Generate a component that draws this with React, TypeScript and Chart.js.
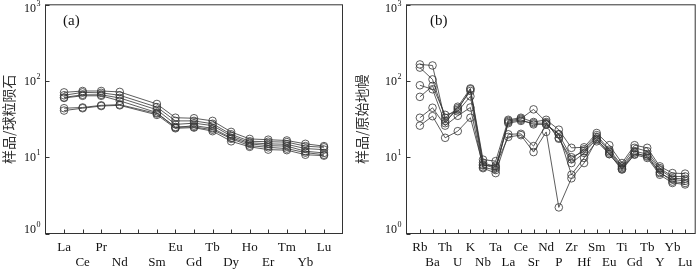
import React, { useEffect, useRef } from 'react';
import { Chart, registerables } from 'chart.js';

Chart.register(...registerables);

// ---------- data ----------
const reeElements = ['La', 'Ce', 'Pr', 'Nd', '', 'Sm', 'Eu', 'Gd', 'Tb', 'Dy', 'Ho', 'Er', 'Tm', 'Yb', 'Lu'];
const reeSample1 = [71, 74, 74, 72, null, 50, 33, 32.5, 30, 21.5, 17.4, 17, 16.6, 15, 14];
const reeSample2 = [65, 71, 70, 65, null, 45.5, 30, 30, 27.5, 20, 16.2, 16, 15.8, 14, 13.5];
const reeSample3 = [61, 66, 66, 60, null, 42, 27, 28, 26, 19, 15.5, 15, 14.8, 13, 12.6];
const reeSample4 = [60, 64, 64, 55, null, 38.5, 24.5, 26, 24, 18, 15, 14.2, 14, 12, 11.4];
const reeSample5 = [44, 45, 48, 49, null, 37.5, 25, 25, 23, 17.5, 14.2, 13.5, 13, 11.5, 10.8];
const reeSample6 = [41, 44, 47, 48, null, 36, 24, 24.5, 22, 16.2, 13.7, 12.6, 12.4, 10.8, 10.5];

const spiderElements = ['Rb', 'Ba', 'Th', 'U', 'K', 'Nb', 'Ta', 'La', 'Ce', 'Sr', 'Nd', 'P', 'Zr', 'Hf', 'Sm', 'Eu', 'Ti', 'Gd', 'Tb', 'Y', 'Yb', 'Lu'];
const spiderSample1 = [165, 160, 30, 42, 78, 8.5, 7.5, 29, 31, 27, 27, 20, 10, 12, 18.5, 12, 7.5, 12, 11, 6.9, 5.3, 5.2];
const spiderSample2 = [150, 105, 33, 44, 74, 8.0, 7.2, 28, 30, 28, 28, 18, 8.4, 11.4, 17.5, 11, 7.0, 11, 10.5, 6.4, 4.8, 4.6];
const spiderSample3 = [88, 78, 28, 46, 80, 9.3, 8.9, 31, 33, 29, 31, 23, 13.3, 13.5, 20.8, 14.4, 8.4, 14.4, 13.3, 7.6, 6.2, 6.1];
const spiderSample4 = [62, 86, 36, 40, 63, 7.4, 6.8, 30, 32, 42.5, 29, 17.5, 9.4, 12.7, 19.5, 12.6, 7.8, 13.3, 12, 7.2, 5.6, 5.6];
const spiderSample5 = [33, 44.6, 26, 35, 45, 7.2, 6.2, 20, 20.3, 14, 27, 20, 5.9, 9.8, 16.2, 11, 6.9, 10.8, 9.8, 5.9, 4.6, 4.4];
const spiderSample6 = [26, 34.6, 18, 22, 33, 7.8, 7.8, 18.5, 19.5, 11.7, 21.5, 2.2, 5.3, 8.4, 17, 11.5, 7.2, 11.5, 10.2, 6.2, 5.1, 4.9];

const yTickValues = [1, 10, 100, 1000];
const yTickExponents = ['0', '1', '2', '3'];

// ---------- styles ----------
const SERIF = '"Liberation Serif", "Times New Roman", serif';
const CJK = '"Noto Sans CJK SC", sans-serif';
const AXIS_COLOR = '#333';
const LINE_COLOR = '#333';
const TEXT_COLOR = '#111';

const framePlugin = {
  id: 'frame',
  afterDraw(chart: any, _args: any, opts: any) {
    const { ctx, chartArea: a, scales } = chart;
    const xs = scales.x;
    const ys = scales.y;
    ctx.save();
    ctx.strokeStyle = AXIS_COLOR;
    ctx.lineWidth = 1;
    ctx.strokeRect(a.left, a.top, a.right - a.left, a.bottom - a.top);
    // inward ticks on x axis
    ctx.beginPath();
    xs.ticks.forEach((t: any) => {
      const px = Math.round(xs.getPixelForValue(t.value)) + 0.5;
      ctx.moveTo(px, a.bottom);
      ctx.lineTo(px, a.bottom - 4);
    });
    // inward ticks on y axis
    yTickValues.forEach((v) => {
      const py = Math.round(ys.getPixelForValue(v)) + 0.5;
      ctx.moveTo(a.left, py);
      ctx.lineTo(a.left + 4, py);
    });
    ctx.stroke();
    // y tick labels 10^n
    ctx.fillStyle = TEXT_COLOR;
    yTickValues.forEach((v, i) => {
      let py = ys.getPixelForValue(v);
      py = Math.min(Math.max(py, a.top + 3), a.bottom - 5);
      const expRight = a.left - 5;
      ctx.font = `8px ${SERIF}`;
      ctx.textAlign = 'right';
      ctx.textBaseline = 'middle';
      const ew = ctx.measureText(yTickExponents[i]).width;
      ctx.fillText(yTickExponents[i], expRight, py - 4);
      ctx.font = `12px ${SERIF}`;
      ctx.fillText('10', expRight - ew - 0.5, py + 1);
    });
    // panel label
    ctx.font = `15px ${SERIF}`;
    ctx.textAlign = 'left';
    ctx.textBaseline = 'middle';
    ctx.fillText(opts.label, opts.labelX, 21);
    ctx.restore();
  },
};

function buildConfig(p: {
  elements: string[];
  series: (number | null)[][];
  xMin: number;
  xMax: number;
  yWidth: number;
  padRight: number;
  title: string;
  titlePad: number;
  label: string;
  labelX: number;
}): any {
  return {
    type: 'line',
    data: {
      datasets: p.series.map((s) => ({
        data: s.map((v, i) => ({ x: i, y: v })),
        borderColor: LINE_COLOR,
        borderWidth: 0.8,
        pointRadius: 3.8,
        pointBorderWidth: 0.8,
        pointBorderColor: LINE_COLOR,
        pointBackgroundColor: 'rgba(0,0,0,0)',
        spanGaps: true,
        fill: false,
        tension: 0,
      })),
    },
    options: {
      responsive: false,
      animation: false,
      devicePixelRatio: 1,
      events: [],
      layout: { padding: { left: 0, top: 3.5, right: p.padRight, bottom: 0 } },
      plugins: {
        legend: { display: false },
        tooltip: { enabled: false },
        frame: { label: p.label, labelX: p.labelX },
      },
      scales: {
        x: {
          type: 'linear',
          min: p.xMin,
          max: p.xMax,
          afterBuildTicks: (s: any) => {
            s.ticks = p.elements.map((_, i) => ({ value: i }));
          },
          afterFit: (s: any) => {
            s.height = 35.5;
          },
          grid: { display: false, drawTicks: false },
          border: { display: false },
          ticks: {
            autoSkip: false,
            maxRotation: 0,
            minRotation: 0,
            padding: 7,
            color: TEXT_COLOR,
            font: { family: SERIF, size: 13, lineHeight: '15px' },
            callback: (value: number) => {
              const i = Math.round(value);
              const name = p.elements[i] ?? '';
              return i % 2 === 0 ? [name, ''] : ['', name];
            },
          },
        },
        y: {
          type: 'logarithmic',
          min: 1,
          max: 1000,
          afterBuildTicks: (s: any) => {
            s.ticks = yTickValues.map((v) => ({ value: v }));
          },
          afterFit: (s: any) => {
            s.width = p.yWidth;
          },
          grid: { display: false, drawTicks: false },
          border: { display: false },
          ticks: { display: false },
          title: {
            display: true,
            text: p.title,
            color: '#333',
            font: { family: CJK, size: 14 },
            padding: { top: p.titlePad, bottom: 0 },
          },
        },
      },
    },
    plugins: [framePlugin],
  };
}

function Panel({ config }: { config: any }) {
  const ref = useRef<HTMLCanvasElement>(null);
  useEffect(() => {
    const chart = new Chart(ref.current as HTMLCanvasElement, config);
    return () => chart.destroy();
  }, [config]);
  return <canvas ref={ref} width={350} height={269} style={{ display: 'block', width: 350, height: 269 }} />;
}

const configA = buildConfig({
  elements: reeElements,
  series: [reeSample1, reeSample2, reeSample3, reeSample4, reeSample5, reeSample6],
  xMin: -1,
  xMax: 15,
  yWidth: 45.5,
  padRight: 7.5,
  title: '样品/球粒陨石',
  titlePad: 0,
  label: '(a)',
  labelX: 63,
});

const configB = buildConfig({
  elements: spiderElements,
  series: [spiderSample1, spiderSample2, spiderSample3, spiderSample4, spiderSample5, spiderSample6],
  xMin: -1.06,
  xMax: 21.8,
  yWidth: 56.5,
  padRight: 1.5,
  title: '样品/原始地幔',
  titlePad: 3,
  label: '(b)',
  labelX: 80,
});

export default function App() {
  return (
    <div style={{ position: 'absolute', left: 0, top: 0, width: 700, height: 269, display: 'flex', background: '#fff' }}>
      <Panel config={configA} />
      <Panel config={configB} />
    </div>
  );
}
